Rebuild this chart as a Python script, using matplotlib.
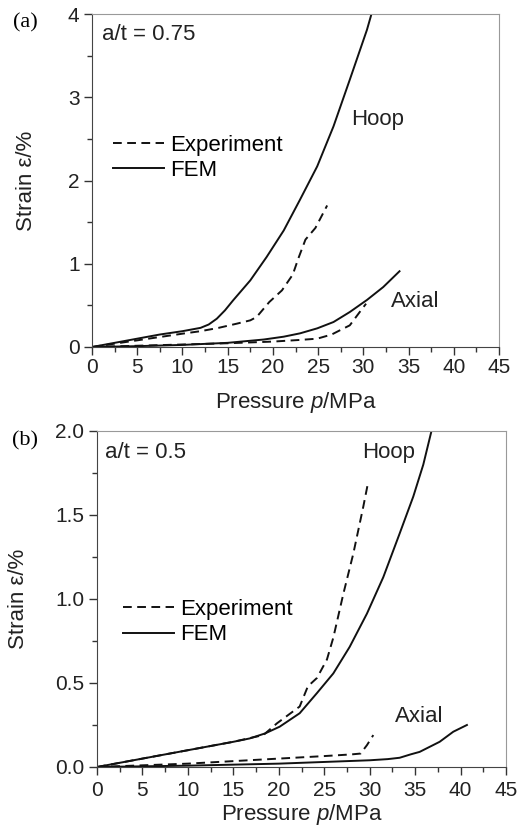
import matplotlib
matplotlib.use('Agg')
import matplotlib.pyplot as plt
from matplotlib.ticker import MultipleLocator

plt.rcParams['font.family'] = ['Liberation Sans', 'DejaVu Sans']
plt.rcParams['mathtext.fontset'] = 'custom'
plt.rcParams['mathtext.rm'] = 'Liberation Sans'
plt.rcParams['mathtext.it'] = 'Liberation Sans:italic'

# ---- panel (a), a/t = 0.75 ----
a_hoop_fem_p = [0, 2.5, 5, 7.5, 10, 11, 12, 12.9, 13.8, 14.7, 15.6, 17.5, 19.3, 21.2, 23.0, 24.9, 26.7, 28.5, 30.4, 30.9]
a_hoop_fem_s = [0, 0.05, 0.10, 0.15, 0.19, 0.21, 0.23, 0.27, 0.34, 0.44, 0.56, 0.80, 1.08, 1.40, 1.77, 2.17, 2.65, 3.21, 3.81, 4.0]
a_hoop_exp_p = [0, 2.5, 5, 7.5, 10, 12, 14, 16, 17.5, 18.2, 19.6, 21.0, 22.2, 22.8, 23.6, 24.7, 26.0]
a_hoop_exp_s = [0, 0.04, 0.08, 0.12, 0.16, 0.19, 0.23, 0.28, 0.32, 0.36, 0.54, 0.68, 0.87, 1.06, 1.29, 1.43, 1.70]
a_axial_fem_p = [0, 5, 10, 15, 19, 21.2, 23, 24.9, 26.7, 28.5, 30.4, 32.2, 34.0]
a_axial_fem_s = [0, 0.01, 0.025, 0.05, 0.09, 0.124, 0.164, 0.224, 0.30, 0.42, 0.565, 0.72, 0.91]
a_axial_exp_p = [0, 5, 10, 15, 20, 23, 24.9, 26.5, 27.4, 28.5, 29.6, 30.3]
a_axial_exp_s = [0, 0.015, 0.03, 0.045, 0.065, 0.085, 0.10, 0.15, 0.20, 0.26, 0.42, 0.52]

# ---- panel (b), a/t = 0.5 ----
b_hoop_fem_p = [0, 5, 10, 15, 16.8, 18.5, 20.1, 22.3, 24.2, 26.0, 27.8, 29.7, 31.5, 33.3, 34.8, 35.9, 36.8]
b_hoop_fem_s = [0, 0.05, 0.10, 0.15, 0.17, 0.20, 0.24, 0.32, 0.44, 0.557, 0.715, 0.913, 1.13, 1.39, 1.61, 1.80, 2.0]
b_hoop_exp_p = [0, 5, 10, 15, 18.3, 19.8, 22.3, 23.2, 24.2, 25.3, 26.0, 27.1, 28.2, 29.3, 29.85]
b_hoop_exp_s = [0, 0.05, 0.10, 0.15, 0.19, 0.26, 0.36, 0.48, 0.53, 0.64, 0.77, 1.03, 1.27, 1.55, 1.70]
b_axial_fem_p = [0, 5, 10, 15, 20, 25, 30, 32, 33.3, 34.5, 35.5, 36.6, 37.7, 39.2, 40.7]
b_axial_fem_s = [0, 0.004, 0.008, 0.014, 0.02, 0.03, 0.04, 0.047, 0.055, 0.075, 0.09, 0.12, 0.15, 0.21, 0.25]
b_axial_exp_p = [0, 5, 10, 15, 20, 25, 28, 29, 29.7, 30.4]
b_axial_exp_s = [0, 0.01, 0.02, 0.035, 0.05, 0.065, 0.075, 0.08, 0.13, 0.19]

lw = 1.4
dash = (0, (4.5, 2.8))

fig = plt.figure(figsize=(5.28, 8.39), dpi=100)
axA = fig.add_axes([92/528, 1-347/839, 407/528, 333/839])
axB = fig.add_axes([97/528, 1-767/839, 409/528, 336/839])


def style(ax, ymax, ymajor, yminor, yfmt, xpad=2):
    ax.set_xlim(0, 45)
    ax.set_ylim(0, ymax)
    ax.xaxis.set_major_locator(MultipleLocator(5))
    ax.xaxis.set_minor_locator(MultipleLocator(2.5))
    ax.yaxis.set_major_locator(MultipleLocator(ymajor))
    ax.yaxis.set_minor_locator(MultipleLocator(yminor))
    ax.yaxis.set_major_formatter(yfmt)
    ax.tick_params(which='both', direction='out', width=1, colors='#333333',
                   labelcolor='#222222', labelsize=15)
    ax.tick_params(which='major', length=6)
    ax.tick_params(which='minor', length=3.5)
    ax.tick_params(axis='x', pad=xpad)
    ax.tick_params(axis='y', pad=3)
    for s in ['left', 'bottom']:
        ax.spines[s].set_color('#444444')
    for s in ['top', 'right']:
        ax.spines[s].set_color('#999999')
    ax.set_xlabel('Pressure $\\it{p}$/MPa', fontsize=16, color='#222222')
    ax.set_ylabel('Strain ε/%', fontsize=16, color='#222222')


# panel (a)
axA.plot(a_hoop_exp_p, a_hoop_exp_s, color='#111111', lw=lw, ls=dash, label='Experiment')
axA.plot(a_hoop_fem_p, a_hoop_fem_s, color='#111111', lw=lw, label='FEM')
axA.plot(a_axial_exp_p, a_axial_exp_s, color='#111111', lw=lw, ls=dash)
axA.plot(a_axial_fem_p, a_axial_fem_s, color='#111111', lw=lw)
style(axA, 4, 1, 0.5, '{x:.0f}')
axA.text(28.7, 2.73, 'Hoop', fontsize=16, ha='left', va='center', color='#222222')
axA.text(33.0, 0.55, 'Axial', fontsize=16, ha='left', va='center', color='#222222')
axA.text(1.1, 3.75, 'a/t = 0.75', fontsize=16, ha='left', va='center', color='#222222')
axA.legend(loc='upper left', bbox_to_anchor=(0.052, 0.638), frameon=False, fontsize=16,
           handlelength=2.3, handletextpad=0.27, labelspacing=0.2, borderpad=0,
           borderaxespad=0)
axA.xaxis.set_label_coords(0.5, -0.129)
axA.yaxis.set_label_coords(-0.135, 0.5)

# panel (b)
axB.plot(b_hoop_exp_p, b_hoop_exp_s, color='#111111', lw=lw, ls=dash, label='Experiment')
axB.plot(b_hoop_fem_p, b_hoop_fem_s, color='#111111', lw=lw, label='FEM')
axB.plot(b_axial_exp_p, b_axial_exp_s, color='#111111', lw=lw, ls=dash)
axB.plot(b_axial_fem_p, b_axial_fem_s, color='#111111', lw=lw)
style(axB, 2, 0.5, 0.25, '{x:.1f}', xpad=4)
axB.text(29.15, 1.87, 'Hoop', fontsize=16, ha='left', va='center', color='#222222')
axB.text(32.8, 0.30, 'Axial', fontsize=16, ha='left', va='center', color='#222222')
axB.text(0.9, 1.87, 'a/t = 0.5', fontsize=16, ha='left', va='center', color='#222222')
axB.legend(loc='upper left', bbox_to_anchor=(0.064, 0.500), frameon=False, fontsize=16,
           handlelength=2.3, handletextpad=0.27, labelspacing=0.2, borderpad=0,
           borderaxespad=0)
axB.xaxis.set_label_coords(0.5, -0.105)
axB.yaxis.set_label_coords(-0.166, 0.5)

fig.text(25/528, 1-23/839, '(a)', fontsize=16, family='Liberation Serif', ha='center', va='center')
fig.text(25/528, 1-441/839, '(b)', fontsize=16, family='Liberation Serif', ha='center', va='center')

fig.savefig('out.png', dpi=100)
